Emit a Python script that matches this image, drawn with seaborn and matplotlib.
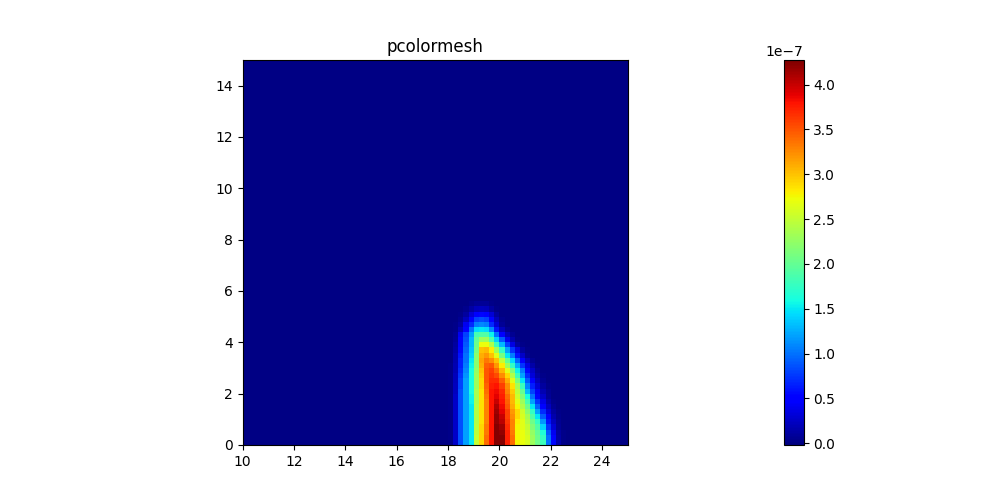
import numpy as np
import pandas as pd
import seaborn as sns
import matplotlib.pyplot as plt

# grid of the field: 75 x 75 cells, only the blob below is non zero
x_edges = np.arange(10, 25.01, 0.2)
y_edges = np.arange(0, 15.01, 0.2)
x_ticks = [10, 12, 14, 16, 18, 20, 22, 24]
y_ticks = [0, 2, 4, 6, 8, 10, 12, 14]
cbar_ticks = [0, 0.5, 1.0, 1.5, 2.0, 2.5, 3.0, 3.5, 4.0]
vmin, vmax = -0.02, 4.275
blob_col0 = 40   # first column of the table (x = 18)

# values in 1e-7, bottom row first
blob = [
    [.03, .25, .85, 1.2, 1.5, 2.5, 2.9, 3.4, 3.8, 4.25, 4.25, 3.75, 3.4, 2.75, 2.7, 2.6, 2.3, 2.05, 1.8, 1.0, .55, .15, .03],
    [.03, .25, .85, 1.2, 1.5, 2.5, 2.9, 3.4, 3.8, 4.25, 4.25, 3.75, 3.4, 2.75, 2.7, 2.6, 2.3, 2.05, 1.75, 1.0, .5, .12, .02],
    [.03, .25, .85, 1.2, 1.5, 2.45, 2.9, 3.35, 3.8, 4.25, 4.2, 3.75, 3.35, 2.75, 2.7, 2.55, 2.25, 2.0, 1.65, .9, .4, .1, .02],
    [.03, .25, .85, 1.2, 1.5, 2.45, 2.9, 3.35, 3.8, 4.25, 4.15, 3.7, 3.3, 2.75, 2.65, 2.5, 2.15, 1.9, 1.4, .75, .3, .08, .01],
    [.03, .25, .85, 1.2, 1.5, 2.4, 2.85, 3.3, 3.8, 4.2, 4.05, 3.65, 3.3, 2.8, 2.65, 2.4, 2.05, 1.75, 1.15, .6, .22, .06, 0],
    [.03, .25, .85, 1.2, 1.5, 2.4, 2.85, 3.3, 3.8, 4.2, 4.0, 3.6, 3.25, 2.9, 2.6, 2.35, 1.9, 1.5, .9, .45, .15, .04, 0],
    [.03, .25, .85, 1.2, 1.5, 2.4, 2.85, 3.3, 3.8, 4.15, 3.9, 3.6, 3.2, 2.9, 2.55, 2.2, 1.75, 1.2, .7, .32, .1, .02, 0],
    [.02, .25, .85, 1.2, 1.5, 2.4, 2.85, 3.3, 3.8, 4.1, 3.85, 3.5, 3.1, 2.75, 2.4, 2.05, 1.5, .95, .52, .22, .06, 0, 0],
    [.02, .25, .85, 1.2, 1.55, 2.35, 2.85, 3.3, 3.8, 4.0, 3.8, 3.45, 3.05, 2.65, 2.3, 1.85, 1.2, .75, .38, .14, .03, 0, 0],
    [.02, .25, .85, 1.2, 1.55, 2.35, 2.85, 3.35, 3.8, 3.9, 3.75, 3.4, 3.05, 2.55, 2.15, 1.6, 1.0, .55, .25, .08, .01, 0, 0],
    [.02, .22, .85, 1.2, 1.6, 2.35, 2.85, 3.4, 3.8, 3.85, 3.7, 3.3, 2.95, 2.45, 2.0, 1.3, .8, .42, .17, .05, 0, 0, 0],
    [.02, .22, .8, 1.2, 1.6, 2.3, 2.9, 3.45, 3.75, 3.8, 3.6, 3.25, 2.85, 2.35, 1.8, 1.1, .65, .3, .1, .02, 0, 0, 0],
    [.02, .2, .8, 1.2, 1.6, 2.3, 2.9, 3.5, 3.7, 3.7, 3.45, 3.1, 2.65, 2.1, 1.5, .9, .47, .2, .06, .01, 0, 0, 0],
    [.02, .2, .75, 1.15, 1.6, 2.3, 2.95, 3.5, 3.65, 3.55, 3.25, 2.9, 2.4, 1.8, 1.2, .7, .32, .12, .03, 0, 0, 0, 0],
    [.02, .18, .7, 1.1, 1.6, 2.25, 3.0, 3.5, 3.6, 3.4, 3.05, 2.65, 2.15, 1.55, 1.05, .55, .25, .08, .01, 0, 0, 0, 0],
    [.02, .18, .65, 1.05, 1.55, 2.2, 3.1, 3.45, 3.5, 3.2, 2.8, 2.3, 1.75, 1.25, .75, .35, .14, .03, 0, 0, 0, 0, 0],
    [.01, .15, .65, 1.0, 1.5, 2.2, 3.15, 3.35, 3.25, 3.0, 2.5, 2.0, 1.45, .95, .5, .2, .06, .01, 0, 0, 0, 0, 0],
    [.01, .15, .6, 1.0, 1.4, 2.2, 3.1, 3.2, 3.0, 2.65, 2.1, 1.5, 1.05, .6, .25, .06, .01, 0, 0, 0, 0, 0, 0],
    [.01, .12, .55, .95, 1.35, 2.1, 3.0, 3.05, 2.8, 2.3, 1.75, 1.2, .75, .35, .1, .02, 0, 0, 0, 0, 0, 0, 0],
    [.01, .1, .5, .9, 1.3, 2.05, 2.7, 2.7, 2.4, 1.8, 1.3, .8, .35, .1, .02, 0, 0, 0, 0, 0, 0, 0, 0],
    [0, .08, .5, .85, 1.3, 2.0, 2.3, 2.3, 1.9, 1.4, .9, .4, .15, .03, 0, 0, 0, 0, 0, 0, 0, 0, 0],
    [0, .06, .4, .8, 1.2, 1.85, 1.9, 1.9, 1.55, 1.0, .5, .2, .05, 0, 0, 0, 0, 0, 0, 0, 0, 0, 0],
    [0, .03, .2, .5, 1.0, 1.45, 1.5, 1.45, 1.1, .6, .2, .05, 0, 0, 0, 0, 0, 0, 0, 0, 0, 0, 0],
    [0, .02, .1, .4, .7, 1.05, 1.1, 1.05, .7, .3, .08, 0, 0, 0, 0, 0, 0, 0, 0, 0, 0, 0, 0],
    [0, 0, .05, .2, .5, .8, .85, .8, .5, .2, .04, 0, 0, 0, 0, 0, 0, 0, 0, 0, 0, 0, 0],
    [0, 0, .02, .1, .3, .5, .55, .5, .3, .1, .01, 0, 0, 0, 0, 0, 0, 0, 0, 0, 0, 0, 0],
    [0, 0, 0, .04, .12, .2, .22, .2, .1, .03, 0, 0, 0, 0, 0, 0, 0, 0, 0, 0, 0, 0, 0],
    [0, 0, 0, .01, .04, .07, .08, .07, .03, 0, 0, 0, 0, 0, 0, 0, 0, 0, 0, 0, 0, 0, 0],
]

z = np.zeros((len(y_edges) - 1, len(x_edges) - 1))
tab = np.array(blob)
z[:tab.shape[0], blob_col0:blob_col0 + tab.shape[1]] = tab
df = pd.DataFrame(z * 1e-7, index=y_edges[:-1], columns=x_edges[:-1])

W, H = 1000, 500
fig = plt.figure(figsize=(10, 5), dpi=100)
ax = fig.add_axes([242.6 / W, 55 / H, 385.2 / W, 385 / H])
cax = fig.add_axes([784 / W, 55 / H, 19.5 / W, 385 / H])

sns.heatmap(df, ax=ax, cbar_ax=cax, cmap="jet", vmin=vmin * 1e-7, vmax=vmax * 1e-7,
            xticklabels=False, yticklabels=False)
ax.invert_yaxis()

# heatmap works in cell units, so put the ticks back on the data values
step = x_edges[1] - x_edges[0]
ax.set_xticks([(t - x_edges[0]) / step for t in x_ticks], labels=[str(t) for t in x_ticks], rotation=0)
ax.set_yticks([(t - y_edges[0]) / step for t in y_ticks], labels=[str(t) for t in y_ticks], rotation=0)
ax.tick_params(length=3.5, width=0.8, labelsize=10)
ax.set_xlabel("")
ax.set_ylabel("")
ax.set_title("pcolormesh", fontsize=12)
for s in ax.spines.values():
    s.set_visible(True)
    s.set_linewidth(0.8)

cb = ax.collections[0].colorbar
cb.set_ticks([t * 1e-7 for t in cbar_ticks])
cb.outline.set_visible(True)
cb.outline.set_linewidth(0.8)
cb.outline.set_edgecolor("black")
cax.tick_params(length=3.5, width=0.8, labelsize=10)

fig.savefig("out.png", dpi=100)
